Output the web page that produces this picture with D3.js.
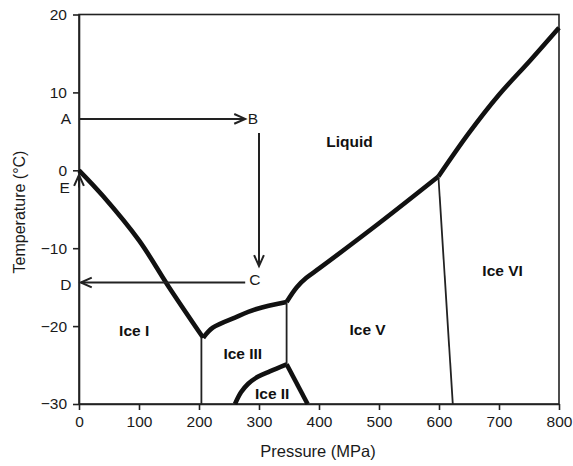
<!DOCTYPE html>
<html><head><meta charset="utf-8">
<script src="https://cdn.jsdelivr.net/npm/d3@7"></script>
<style>body{margin:0;background:#fff}text{font-family:"Liberation Sans",Arial,sans-serif}</style>
</head><body><svg id="c" width="573" height="466"></svg>
<script>
// Phase boundaries [pressure MPa, temperature °C]
const iceI_liquid = [[0,0],[40,-3.3],[100,-9],[150,-15],[207,-21.5]];
const iceIII_liquid = [[207,-21.5],[223,-20.2],[260,-18.9],[296,-17.8],[346,-16.9]];
const iceV_liquid = [[346,-16.9],[363,-15.0],[379,-13.8],[402,-12.5],[500,-6.8],[599,-0.8]];
const iceVI_liquid = [[599,-0.8],[650,4.8],[700,9.7],[752,14.1],[800,18.3]];
const iceII_III = [[260,-30],[270,-28.5],[282,-27.4],[298,-26.5],[318,-25.8],[346,-24.9]];
const iceII_V = [[346,-24.9],[381,-30]];
const iceI_III = [[204,-21.5],[204,-30]];
const iceIII_V = [[346,-16.9],[346,-24.9]];
const iceV_VI = [[599,-0.8],[623,-30]];
const thickLines = [iceI_liquid, iceIII_liquid, iceV_liquid, iceVI_liquid, iceII_III, iceII_V];
const thinLines = [iceI_III, iceIII_V, iceV_VI];
// Process arrows
const arrows = [
  {from:[0,6.6], to:[277,6.6]},
  {from:[300,4.8], to:[300,-12.3]},
  {from:[277,-14.4], to:[3,-14.4]},
  {from:[0,-2.2], to:[0,-0.6]}
];
const pointLabels = [
  {t:"A", p:-22, T:6.6}, {t:"B", p:290, T:6.6},
  {t:"C", p:293, T:-14.0}, {t:"D", p:-22, T:-14.6}, {t:"E", p:-24, T:-2.2}
];
const phaseLabels = [
  {t:"Liquid", p:451, T:3.7}, {t:"Ice I", p:92, T:-20.5}, {t:"Ice III", p:273, T:-23.5},
  {t:"Ice II", p:322, T:-28.6}, {t:"Ice V", p:481, T:-20.4}, {t:"Ice VI", p:706, T:-12.9}
];
const xTicks = [0,100,200,300,400,500,600,700,800];
const yTicks = [-30,-20,-10,0,10,20];

const svg = d3.select("#c");
const x = d3.scaleLinear().domain([0,800]).range([79,559]);
const y = d3.scaleLinear().domain([-30,20]).range([404,14.5]);
const ink = "#111";

// frame
svg.append("rect").attr("x",79).attr("y",14.5).attr("width",480).attr("height",389.5)
  .attr("fill","none").attr("stroke","#222").attr("stroke-width",1.6);

const fmt = d => d<0 ? "\u2212"+Math.abs(d) : String(d);
const xa = svg.append("g").attr("transform","translate(0,404)")
  .call(d3.axisBottom(x).tickValues(xTicks).tickSize(6).tickSizeOuter(0).tickFormat(fmt));
const ya = svg.append("g").attr("transform","translate(79,0)")
  .call(d3.axisLeft(y).tickValues(yTicks).tickSize(6).tickSizeOuter(0).tickFormat(fmt));
[xa,ya].forEach(a=>{
  a.select(".domain").attr("stroke","#222").attr("stroke-width",1.6);
  a.selectAll(".tick line").attr("stroke","#222").attr("stroke-width",1.6);
  a.selectAll(".tick text").attr("font-size",15.5).attr("fill","#1a1a1a")
   .attr("font-family","Liberation Sans, Arial, sans-serif");
});
xa.selectAll(".tick text").attr("dy","0.9em");
ya.selectAll(".tick text").attr("dx","-3px");

const line = d3.line().x(d=>x(d[0])).y(d=>y(d[1])).curve(d3.curveCatmullRom.alpha(0.5));
const lineLin = d3.line().x(d=>x(d[0])).y(d=>y(d[1]));
svg.append("g").selectAll("path").data(thickLines).join("path")
  .attr("d",line).attr("fill","none").attr("stroke",ink).attr("stroke-width",4.6)
  .attr("stroke-linejoin","round").attr("stroke-linecap","butt");
svg.append("g").selectAll("path").data(thinLines).join("path")
  .attr("d",lineLin).attr("fill","none").attr("stroke","#222").attr("stroke-width",1.8);

// arrows
const ag = svg.append("g");
arrows.forEach(a=>{
  const x1=x(a.from[0]), y1=y(a.from[1]), x2=x(a.to[0]), y2=y(a.to[1]);
  ag.append("line").attr("x1",x1).attr("y1",y1).attr("x2",x2).attr("y2",y2)
    .attr("stroke","#222").attr("stroke-width",2);
  const ang=Math.atan2(y2-y1,x2-x1), L=12, w=0.42;
  const p1=[x2-L*Math.cos(ang-w), y2-L*Math.sin(ang-w)];
  const p2=[x2-L*Math.cos(ang+w), y2-L*Math.sin(ang+w)];
  ag.append("path").attr("d",`M${p1}L${x2},${y2}L${p2}`).attr("fill","none")
    .attr("stroke","#222").attr("stroke-width",2).attr("stroke-linejoin","miter");
});

svg.append("g").selectAll("text").data(pointLabels).join("text")
  .attr("x",d=>x(d.p)).attr("y",d=>y(d.T)).attr("dy","0.36em")
  .attr("text-anchor","middle").attr("font-size",15.5).attr("fill","#1a1a1a").text(d=>d.t);

svg.append("g").selectAll("text").data(phaseLabels).join("text")
  .attr("x",d=>x(d.p)).attr("y",d=>y(d.T)).attr("dy","0.36em")
  .attr("text-anchor","middle").attr("font-size",15.5).attr("font-weight","bold")
  .attr("fill","#111").text(d=>d.t);

svg.append("text").attr("x",318).attr("y",457).attr("text-anchor","middle")
  .attr("font-size",16.5).attr("fill","#1a1a1a").text("Pressure (MPa)");
svg.append("text").attr("transform","translate(25,212) rotate(-90)").attr("text-anchor","middle")
  .attr("font-size",16).attr("fill","#1a1a1a").text("Temperature (°C)");
</script></body></html>
